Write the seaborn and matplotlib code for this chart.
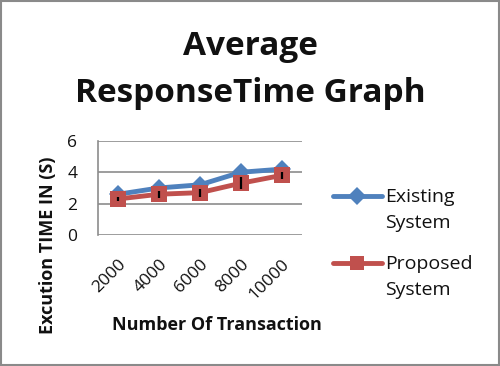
import numpy as np
import pandas as pd
import matplotlib.pyplot as plt
import seaborn as sns
from matplotlib.patches import Rectangle
from matplotlib.lines import Line2D
from matplotlib.legend_handler import HandlerLine2D

# ---- data ----
transactions = ['2000', '4000', '6000', '8000', '10000']
existing = [2.6, 3.0, 3.2, 4.0, 4.2]
proposed = [2.3, 2.6, 2.7, 3.3, 3.8]
proposed_err = [0.13, 0.22, 0.26, 0.38, 0.22]
series_names = ['Existing\nSystem', 'Proposed\nSystem']

df = pd.DataFrame({
    'Transaction': transactions * 2,
    'Time': existing + proposed,
    'System': [series_names[0]] * 5 + [series_names[1]] * 5,
})

sns.set_style('white')
plt.rcParams['font.family'] = ['Open Sans', 'DejaVu Sans']
plt.rcParams['text.color'] = '#111111'
plt.rcParams['axes.labelcolor'] = '#111111'
plt.rcParams['xtick.color'] = '#111111'
plt.rcParams['ytick.color'] = '#111111'

pal = {series_names[0]: '#4F81BD', series_names[1]: '#C0504D'}


# legend handle sits level with the first line of the two-line label
class TopLineHandler(HandlerLine2D):
    def create_artists(self, legend, orig_handle, xdescent, ydescent,
                       width, height, fontsize, trans):
        arts = super().create_artists(legend, orig_handle, xdescent, ydescent,
                                      width, height, fontsize, trans)
        for a in arts:
            a.set_ydata(np.asarray(a.get_ydata()) + 0.72 * fontsize)
        return arts


fig = plt.figure(figsize=(5, 3.66), dpi=100)
ax = fig.add_axes([0.196, 0.358, 0.408, 0.257])

sns.lineplot(data=df, x='Transaction', y='Time', hue='System', style='System',
             palette=pal, markers={series_names[0]: 'D', series_names[1]: 's'},
             dashes=False, linewidth=3.5, markeredgewidth=0,
             sort=False, ax=ax, legend='full')
for line, ms in zip(ax.lines, [9, 12]):
    line.set_markersize(ms)

# small black error bars on proposed points
ax.errorbar(range(len(transactions)), proposed, yerr=proposed_err, fmt='none',
            ecolor='black', elinewidth=1.6, capsize=0, zorder=5)

ax.set_xlim(-0.5, len(transactions) - 0.5)
ax.set_ylim(0, 6)
ax.set_yticks([0, 2, 4, 6])
ax.yaxis.grid(True, color='#8c8c8c', linewidth=1.2)
ax.set_axisbelow(True)
for s in ['top', 'right', 'bottom']:
    ax.spines[s].set_visible(False)
ax.spines['left'].set_color('#8c8c8c')
ax.spines['left'].set_linewidth(1.2)
ax.tick_params(axis='y', length=6, color='#8c8c8c', labelsize=12.5, pad=9)
ax.tick_params(axis='x', length=0, labelsize=12.5, pad=15)
plt.setp(ax.get_xticklabels(), rotation=45, ha='right', va='top',
         rotation_mode='anchor')

ax.set_xlabel('Number Of Transaction', fontsize=13, fontweight='bold')
ax.set_ylabel('Excution TIME IN (S)', fontsize=13, fontweight='bold')
ax.yaxis.set_label_coords(-0.2, -0.11)
ax.xaxis.set_label_coords(0.583, -0.86)

fig.text(0.5, 0.850, 'Average', fontsize=24, fontweight='bold',
         ha='center', va='baseline')
fig.text(0.5, 0.721, 'ResponseTime Graph', fontsize=24, fontweight='bold',
         ha='center', va='baseline')

handles, labels = ax.get_legend_handles_labels()
for h, ms in zip(handles, [9, 10]):
    h.set_markersize(ms)
    h.set_linewidth(3.5)
leg = ax.legend(handles, labels, loc='upper left',
                bbox_to_anchor=(333 / 500, 1 - 188 / 366),
                bbox_transform=fig.transFigure, frameon=False,
                borderaxespad=0, borderpad=0,
                fontsize=14, handlelength=2.5, handletextpad=0.2,
                labelspacing=1.15, handler_map={Line2D: TopLineHandler()})
for t in leg.get_texts():
    t.set_linespacing(1.6)

fig.patches.append(Rectangle((0.002, 0.003), 0.995, 0.994, transform=fig.transFigure,
                             fill=False, edgecolor='#8a8a8a', linewidth=1.5))

fig.savefig('out.png', dpi=100)
